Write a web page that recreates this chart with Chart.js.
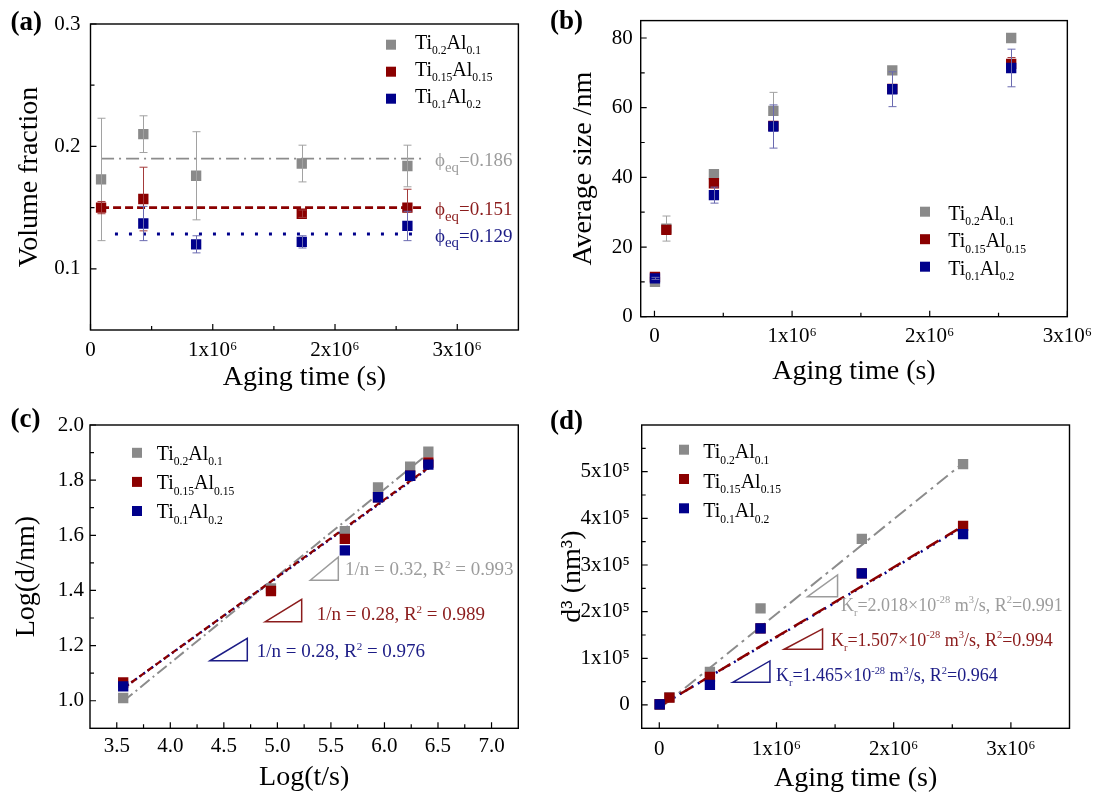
<!DOCTYPE html>
<html><head><meta charset="utf-8">
<script src="https://cdn.jsdelivr.net/npm/chart.js@4.4.1/dist/chart.umd.min.js"></script>
<style>
html,body{margin:0;padding:0;background:#fff;}
#wrap{position:relative;width:1099px;height:798px;background:#fff;overflow:hidden}
canvas{position:absolute;}
</style></head><body>
<div id="wrap">
<canvas id="ca" width="550" height="400" style="left:0;top:0"></canvas>
<canvas id="cb" width="549" height="400" style="left:550px;top:0"></canvas>
<canvas id="cc" width="550" height="398" style="left:0;top:400px"></canvas>
<canvas id="cd" width="549" height="398" style="left:550px;top:400px"></canvas>
</div>
<script>
const FONT = "'Liberation Serif','Times New Roman',serif";

// ---------- shared ----------
const seriesNames = ['Ti_{0.2}Al_{0.1}', 'Ti_{0.15}Al_{0.15}', 'Ti_{0.1}Al_{0.2}'];

// ---------- panel (a): volume fraction ----------
const aTime     = [86400, 432000, 864000, 1728000, 2592000];
const aGray     = [0.173, 0.210, 0.176, 0.186, 0.184];
const aGrayErr  = [0.050, 0.015, 0.036, 0.015, 0.017];
const aRed      = [0.150, 0.157, null, 0.145, 0.150];
const aRedErr   = [0.005, 0.026, null, 0.003, 0.015];
const aBlue     = [null, 0.137, 0.120, 0.122, 0.135];
const aBlueErr  = [null, 0.014, 0.007, 0.005, 0.012];
const aEqLevel  = [0.190, 0.150, 0.1285];
const aEqFrom   = [86400, 86400, 200000];
const aEqTo     = [2720000, 2720000, 2670000];
const aEqLabels = ['ϕ_{eq}=0.186', 'ϕ_{eq}=0.151', 'ϕ_{eq}=0.129'];
const aXTicks = [0, 1e6, 2e6, 3e6];
const aXTickLabels = ['0', '1x10⁶', '2x10⁶', '3x10⁶'];
const aYTicks = [0.1, 0.2, 0.3];
const aYTickLabels = ['0.1', '0.2', '0.3'];

// ---------- panel (b): average size ----------
const bTime     = [3600, 86400, 432000, 864000, 1728000, 2592000];
const bGray     = [10.0, 25.3, 40.9, 59.1, 70.7, 80.0];
const bGrayErr  = [0, 3.6, 0, 5.3, 0, 0];
const bRed      = [11.4, 24.9, 38.3, 54.8, 65.4, 72.6];
const bRedErr   = [0.3, 0, 0, 0, 0, 1.8];
const bBlue     = [11.0, null, 34.9, 54.6, 65.3, 71.4];
const bBlueErr  = [0.3, null, 2.3, 6.2, 5.0, 5.4];
const bXTicks = [0, 1e6, 2e6, 3e6];
const bXTickLabels = ['0', '1x10⁶', '2x10⁶', '3x10⁶'];
const bYTicks = [0, 20, 40, 60, 80];
const bYTickLabels = ['0', '20', '40', '60', '80'];

// ---------- panel (c): log-log ----------
const cLogT    = [3.56, 4.94, 5.63, 5.94, 6.24, 6.41];
const cGray    = [1.010, 1.407, 1.615, 1.774, 1.849, 1.903];
const cRed     = [1.066, 1.398, 1.587, 1.738, 1.816, 1.864];
const cBlue    = [1.052, null, 1.545, 1.738, 1.816, 1.856];
const cFitGrayX = [3.56, 6.42], cFitGrayY = [0.998, 1.900];
const cFitRedX  = [3.56, 6.42], cFitRedY  = [1.045, 1.848];
const cFitBlueX = [3.56, 6.42], cFitBlueY = [1.045, 1.845];
const cLabels = ['1/n = 0.32, R^{2} = 0.993', '1/n = 0.28, R^{2} = 0.989', '1/n = 0.28, R^{2} = 0.976'];
const cLabelX = [5.632, 5.367, 4.807];
const cLabelY = [1.478, 1.315, 1.180];
const cTriX = [[5.307, 5.569], [4.885, 5.227], [4.371, 4.719]];
const cTriY = [[1.437, 1.521], [1.286, 1.368], [1.145, 1.226]];
const cXTicks = [3.5, 4.0, 4.5, 5.0, 5.5, 6.0, 6.5, 7.0];
const cXTickLabels = ['3.5', '4.0', '4.5', '5.0', '5.5', '6.0', '6.5', '7.0'];
const cYTicks = [1.0, 1.2, 1.4, 1.6, 1.8, 2.0];
const cYTickLabels = ['1.0', '1.2', '1.4', '1.6', '1.8', '2.0'];

// ---------- panel (d): d^3 vs time ----------
const dTime    = [3600, 86400, 432000, 864000, 1728000, 2592000];
const dGray    = [1000, 16200, 71000, 207000, 356000, 516000];
const dRed     = [1500, 15600, 60000, 164000, 282000, 384000];
const dBlue    = [1400, null, 43000, 164000, 282000, 366000];
const dFitGrayX = [40000, 2610000], dFitGrayY = [0, 522000];
const dFitRedX  = [20000, 2610000], dFitRedY  = [0, 386000];
const dFitBlueX = [20000, 2610000], dFitBlueY = [0, 384000];
const dLabels = ['K_{r}=2.018×10^{-28} m^{3}/s, R^{2}=0.991', 'K_{r}=1.507×10^{-28} m^{3}/s, R^{2}=0.994', 'K_{r}=1.465×10^{-28} m^{3}/s, R^{2}=0.964'];
const dLabelX = [1550000, 1465000, 995000];
const dLabelY = [215000, 140000, 64000];
const dTriX = [[1265000, 1521000], [1066000, 1393000], [626000, 944000]];
const dTriY = [[232000, 278600], [119400, 162900], [48600, 94300]];
const dXTicks = [0, 1e6, 2e6, 3e6];
const dXTickLabels = ['0', '1x10⁶', '2x10⁶', '3x10⁶'];
const dYTicks = [0, 1e5, 2e5, 3e5, 4e5, 5e5];
const dYTickLabels = ['0', '1x10⁵', '2x10⁵', '3x10⁵', '4x10⁵', '5x10⁵'];

// ---------- styling ----------
const COL = ['#8a8a8a', '#8b0000', '#00008b'];
const TXT = ['#9c9c9c', '#8b1c1c', '#1c1c86'];
const ERR = ['#a2a2a2', '#a33a3a', '#6a6ab0'];
const TICK_SIZE = 21;

function parseRich(s) {
  const out = []; const re = /([_^])\{([^}]*)\}|([^_^]+)/g; let m;
  while ((m = re.exec(s))) { if (m[3]) out.push([m[3], 0]); else out.push([m[2], m[1] === '_' ? 1 : 2]); }
  return out;
}
function drawRich(ctx, x, y, s, size, color, subScale) {
  const ss = subScale || 0.58;
  ctx.save(); ctx.fillStyle = color; ctx.textBaseline = 'alphabetic'; ctx.textAlign = 'left';
  let cx = x;
  for (const [t, m] of parseRich(s)) {
    const fs = m ? size * ss : size;
    ctx.font = fs + 'px ' + FONT;
    const dy = m === 1 ? size * 0.28 : (m === 2 ? -size * 0.40 : 0);
    ctx.fillText(t, cx, y + dy);
    cx += ctx.measureText(t).width;
  }
  ctx.restore();
}
function pts(xs, ys, es) {
  const r = [];
  xs.forEach((x, i) => { if (ys[i] !== null && ys[i] !== undefined) r.push({x: x, y: ys[i], e: es ? (es[i] || 0) : 0}); });
  return r;
}
function minorList(min, max, step, majors) {
  const out = []; const n0 = Math.ceil(min / step - 1e-9), n1 = Math.floor(max / step + 1e-9);
  for (let n = n0; n <= n1; n++) {
    const v = n * step;
    if (Math.abs(v - min) < step * 1e-3 || Math.abs(v - max) < step * 1e-3) continue;
    if (majors.some(m => Math.abs(m - v) < step * 1e-3)) continue;
    out.push(v);
  }
  return out;
}

function makeAxis(isX, min, max, ticks, labels, pad, title, titlePad, size) {
  return {
    type: 'linear', min: min, max: max, position: isX ? 'bottom' : 'left',
    grid: {display: false, drawTicks: false}, border: {display: false},
    afterBuildTicks: s => { s.ticks = ticks.map(v => ({value: v})); },
    afterFit: s => { if (isX) s.height = size; else s.width = size; },
    ticks: {autoSkip: false, maxRotation: 0, minRotation: 0, padding: pad, color: '#000',
            font: {family: FONT, size: TICK_SIZE}, callback: (v, i) => labels[i]},
    title: {display: true, text: title, color: '#000', font: {family: FONT, size: 28, lineHeight: 1},
            padding: isX ? {top: 0, bottom: titlePad} : {top: titlePad, bottom: 0}}
  };
}

function buildPanel(p) {
  const datasets = [];
  p.lines.forEach((l, i) => datasets.push({
    type: 'line', data: l.data, borderColor: l.color, borderWidth: l.width, borderDash: l.dash,
    pointRadius: 0, fill: false, tension: 0, order: 20 - i, borderCapStyle: 'butt'
  }));
  p.series.forEach((s, i) => datasets.push({
    type: 'scatter', data: s, backgroundColor: COL[i], borderColor: COL[i], borderWidth: 0,
    pointStyle: 'rect', pointRadius: 7.3, pointHoverRadius: 7.3, order: 3 - i, errColor: ERR[i]
  }));
  const deco = {
    id: 'deco',
    afterDatasetDraw(chart, args) {
      const ds = chart.data.datasets[args.index];
      if (!ds.errColor) return;
      const ctx = chart.ctx, xs = chart.scales.x, ys = chart.scales.y;
      ctx.save(); ctx.strokeStyle = ds.errColor; ctx.lineWidth = 1;
      ds.data.forEach(pt => {
        if (!pt.e) return;
        const px = Math.round(xs.getPixelForValue(pt.x)) + 0.5;
        const y1 = ys.getPixelForValue(pt.y - pt.e), y2 = ys.getPixelForValue(pt.y + pt.e);
        ctx.beginPath();
        ctx.moveTo(px, y1); ctx.lineTo(px, y2);
        ctx.moveTo(px - 4, y1); ctx.lineTo(px + 4, y1);
        ctx.moveTo(px - 4, y2); ctx.lineTo(px + 4, y2);
        ctx.stroke();
      });
      ctx.restore();
    },
    afterDraw(chart) {
      const ctx = chart.ctx, ca = chart.chartArea, xs = chart.scales.x, ys = chart.scales.y;
      ctx.save();
      ctx.strokeStyle = '#000'; ctx.lineWidth = 1.4;
      ctx.strokeRect(ca.left, ca.top, ca.right - ca.left, ca.bottom - ca.top);
      ctx.lineWidth = 1.2; ctx.beginPath();
      p.xTicks.forEach(v => { const x = xs.getPixelForValue(v); ctx.moveTo(x, ca.bottom); ctx.lineTo(x, ca.bottom - 6); });
      minorList(p.xMin, p.xMax, p.xMinor, p.xTicks).forEach(v => { const x = xs.getPixelForValue(v); ctx.moveTo(x, ca.bottom); ctx.lineTo(x, ca.bottom - 4); });
      p.yTicks.forEach(v => { const y = ys.getPixelForValue(v); ctx.moveTo(ca.left, y); ctx.lineTo(ca.left + 6, y); });
      minorList(p.yMin, p.yMax, p.yMinor, p.yTicks).forEach(v => { const y = ys.getPixelForValue(v); ctx.moveTo(ca.left, y); ctx.lineTo(ca.left + 4, y); });
      ctx.stroke();
      ctx.restore();
      (p.tris || []).forEach((t, i) => {
        const x1 = xs.getPixelForValue(t.x[0]), x2 = xs.getPixelForValue(t.x[1]);
        const y1 = ys.getPixelForValue(t.y[0]), y2 = ys.getPixelForValue(t.y[1]);
        ctx.save(); ctx.strokeStyle = TXT[i]; ctx.lineWidth = 1.5;
        ctx.beginPath(); ctx.moveTo(x1, y1); ctx.lineTo(x2, y2); ctx.lineTo(x2, y1); ctx.closePath(); ctx.stroke();
        ctx.restore();
      });
      (p.texts || []).forEach((t, i) => {
        const x = xs.getPixelForValue(t.x), y = ys.getPixelForValue(t.y);
        drawRich(ctx, x, y + t.size * 0.33, t.text, t.size, TXT[i], t.sub);
      });
      const L = p.legend;
      seriesNames.forEach((name, i) => {
        const cy = L.y0 + i * L.dy;
        ctx.save(); ctx.fillStyle = COL[i];
        ctx.fillRect(L.mx - 5, cy - 5, 10, 10);
        ctx.restore();
        drawRich(ctx, L.tx, cy + L.base, name, 20, '#000');
      });
      ctx.save(); ctx.fillStyle = '#000'; ctx.font = 'bold 27px ' + FONT;
      ctx.textBaseline = 'alphabetic'; ctx.textAlign = 'left';
      ctx.fillText(p.label, p.labelX, p.labelY);
      ctx.restore();
    }
  };
  new Chart(document.getElementById(p.id), {
    type: 'scatter',
    data: {datasets: datasets},
    options: {
      responsive: false, animation: false, devicePixelRatio: 1, events: [],
      layout: {padding: {top: p.padTop, right: p.padRight, bottom: 0, left: 0}},
      plugins: {legend: {display: false}, tooltip: {enabled: false}},
      scales: {
        x: makeAxis(true, p.xMin, p.xMax, p.xTicks, p.xLabels, p.xPad, p.xTitle, p.xTitlePad, p.xSize),
        y: makeAxis(false, p.yMin, p.yMax, p.yTicks, p.yLabels, p.yPad, p.yTitle, p.yTitlePad, p.ySize)
      }
    },
    plugins: [deco]
  });
}

// panel (a)
buildPanel({
  id: 'ca', label: '(a)', labelX: 10.5, labelY: 30,
  padTop: 24, padRight: 31.6, xSize: 70, ySize: 90.5,
  xMin: 0, xMax: 3.5e6, xMinor: 5e5, xTicks: aXTicks, xLabels: aXTickLabels, xPad: 8, xTitle: 'Aging time (s)', xTitlePad: 8,
  yMin: 0.05, yMax: 0.3, yMinor: 0.05, yTicks: aYTicks, yLabels: aYTickLabels, yPad: 10, yTitle: 'Volume fraction', yTitlePad: 15.8,
  lines: [
    {data: [{x: aEqFrom[0], y: aEqLevel[0]}, {x: aEqTo[0], y: aEqLevel[0]}], color: '#8c8c8c', width: 1.6, dash: [13, 5, 2, 5]},
    {data: [{x: aEqFrom[1], y: aEqLevel[1]}, {x: aEqTo[1], y: aEqLevel[1]}], color: COL[1], width: 2.8, dash: [8, 4]},
    {data: [{x: aEqFrom[2], y: aEqLevel[2]}, {x: aEqTo[2], y: aEqLevel[2]}], color: COL[2], width: 3, dash: [3, 11]}
  ],
  series: [pts(aTime, aGray, aGrayErr), pts(aTime, aRed, aRedErr), pts(aTime, aBlue, aBlueErr)],
  texts: aEqLabels.map((t, i) => ({x: 2818000, y: aEqLevel[i] - 0.0012, text: t, size: 19, sub: 0.78})),
  legend: {mx: 391, y0: 44.7, dy: 27, tx: 415, base: 4}
});

// panel (b)
buildPanel({
  id: 'cb', label: '(b)', labelX: 0, labelY: 28.5,
  padTop: 12, padRight: 30, xSize: 83.3, ySize: 90.7,
  xMin: -1e5, xMax: 3e6, xMinor: 5e5, xTicks: bXTicks, xLabels: bXTickLabels, xPad: 7, xTitle: 'Aging time (s)', xTitlePad: 14.3,
  yMin: 0, yMax: 85, yMinor: 10, yTicks: bYTicks, yLabels: bYTickLabels, yPad: 8, yTitle: 'Average size /nm', yTitlePad: 19.3,
  lines: [],
  series: [pts(bTime, bGray, bGrayErr), pts(bTime, bRed, bRedErr), pts(bTime, bBlue, bBlueErr)],
  legend: {mx: 375, y0: 211.7, dy: 27.5, tx: 398.3, base: 8}
});

// panel (c)
buildPanel({
  id: 'cc', label: '(c)', labelX: 10.5, labelY: 27,
  padTop: 25, padRight: 31.7, xSize: 69.7, ySize: 90,
  xMin: 3.25, xMax: 7.25, xMinor: 0.25, xTicks: cXTicks, xLabels: cXTickLabels, xPad: 6, xTitle: 'Log(t/s)', xTitlePad: 6,
  yMin: 0.9, yMax: 2.0, yMinor: 0.1, yTicks: cYTicks, yLabels: cYTickLabels, yPad: 6, yTitle: 'Log(d/nm)', yTitlePad: 12.3,
  lines: [
    {data: [{x: cFitGrayX[0], y: cFitGrayY[0]}, {x: cFitGrayX[1], y: cFitGrayY[1]}], color: '#8c8c8c', width: 2, dash: [12, 4, 2, 4]},
    {data: [{x: cFitBlueX[0], y: cFitBlueY[0]}, {x: cFitBlueX[1], y: cFitBlueY[1]}], color: COL[2], width: 2.3, dash: [2, 3]},
    {data: [{x: cFitRedX[0], y: cFitRedY[0]}, {x: cFitRedX[1], y: cFitRedY[1]}], color: COL[1], width: 2.3, dash: [6, 4]}
  ],
  series: [pts(cLogT, cGray), pts(cLogT, cRed), pts(cLogT, cBlue)],
  tris: cTriX.map((x, i) => ({x: x, y: cTriY[i]})),
  texts: cLabels.map((t, i) => ({x: cLabelX[i], y: cLabelY[i], text: t, size: 19})),
  legend: {mx: 137, y0: 52.8, dy: 29.1, tx: 156.7, base: 7}
});

// panel (d)
buildPanel({
  id: 'cd', label: '(d)', labelX: 0, labelY: 28.5,
  padTop: 25, padRight: 29.5, xSize: 69.7, ySize: 91.7,
  xMin: -1.5e5, xMax: 3.5e6, xMinor: 5e5, xTicks: dXTicks, xLabels: dXTickLabels, xPad: 9, xTitle: 'Aging time (s)', xTitlePad: 5,
  yMin: -5e4, yMax: 6e5, yMinor: 5e4, yTicks: dYTicks, yLabels: dYTickLabels, yPad: 12, yTitle: 'd³ (nm³)', yTitlePad: 9,
  lines: [
    {data: [{x: dFitGrayX[0], y: dFitGrayY[0]}, {x: dFitGrayX[1], y: dFitGrayY[1]}], color: '#8c8c8c', width: 2, dash: [14, 5, 3, 5]},
    {data: [{x: dFitBlueX[0], y: dFitBlueY[0]}, {x: dFitBlueX[1], y: dFitBlueY[1]}], color: COL[2], width: 2.5, dash: [2, 5]},
    {data: [{x: dFitRedX[0], y: dFitRedY[0]}, {x: dFitRedX[1], y: dFitRedY[1]}], color: COL[1], width: 2.5, dash: [14, 8]}
  ],
  series: [pts(dTime, dGray), pts(dTime, dRed), pts(dTime, dBlue)],
  tris: dTriX.map((x, i) => ({x: x, y: dTriY[i]})),
  texts: dLabels.map((t, i) => ({x: dLabelX[i], y: dLabelY[i], text: t, size: 18})),
  legend: {mx: 134, y0: 49.7, dy: 29.3, tx: 153.3, base: 8.6}
});
</script>
</body></html>
